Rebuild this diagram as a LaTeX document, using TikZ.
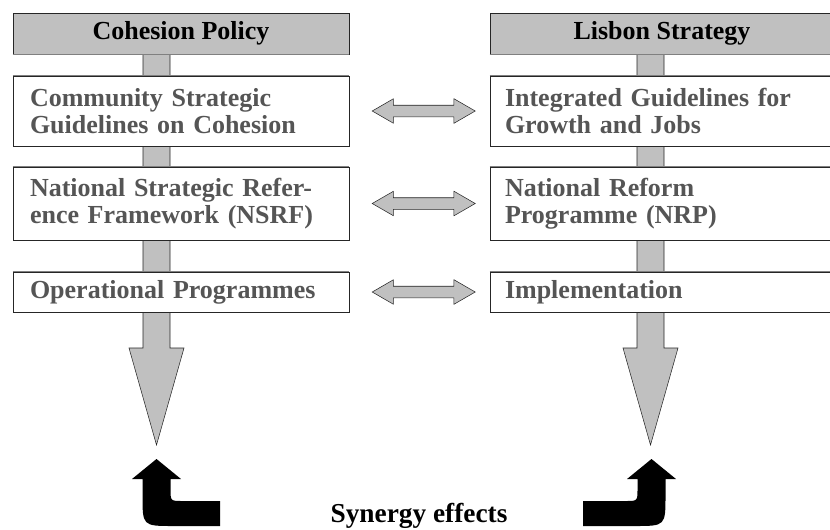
\documentclass[tikz,border=0pt]{standalone}
\usepackage{fontspec}
\setmainfont{Liberation Serif}
\usetikzlibrary{shapes.arrows,calc}
\definecolor{boxgray}{HTML}{C0C0C0}
\definecolor{textgray}{HTML}{555555}
\tikzset{
  pillar/.style={draw=black!85, fill=boxgray, minimum width=252pt, minimum height=30.75pt, inner sep=0pt, font=\fontsize{19.5}{21}\selectfont\bfseries},
  stage/.style={draw=black!85, fill=white, text width=226.5pt, inner xsep=12.75pt, inner ysep=0pt, minimum width=252pt, align=left, text=textgray, font=\fontsize{19.5}{20.25}\selectfont\bfseries},
  rstage/.style={stage, text width=235.5pt, inner xsep=11.25pt, minimum width=258pt},
  link/.style={double arrow, draw=black!85, fill=boxgray, minimum height=77.25pt, minimum width=18pt, inner sep=4.125pt, double arrow head extend=4.875pt, double arrow tip angle=60},
  stem/.style={draw=black!85, fill=boxgray},
  edge/.style={draw=black!50},
  synergy/.style={fill=black}
}
\begin{document}
\begin{tikzpicture}[x=0.75pt,y=-0.75pt]
  \useasboundingbox (0,0) rectangle (830,529);
  \draw[stem] (143,54) -- (143,348) -- (129,348) -- (156.5,445) -- (184,348) -- (170,348) -- (170,54) -- cycle;
  \draw[stem] (637,54) -- (637,348) -- (623,348) -- (650.5,445) -- (678,348) -- (664,348) -- (664,54) -- cycle;

  \node[pillar] (cp) at (181,33.5) {Cohesion Policy};
  \node[pillar, minimum width=258pt] (ls) at (662,33.5) {Lisbon Strategy};

  \node[stage, minimum height=52.5pt] (csg) at (181,111) {Community Strategic\\Guidelines on Cohesion};
  \node[stage, minimum height=54.75pt] (nsrf) at (181,203.5) {National Strategic Refer-\\ence Framework (NSRF)};
  \node[stage, minimum height=30pt] (op) at (181,292) {Operational Programmes};

  \node[rstage, minimum height=52.5pt] (igg) at (662,111) {Integrated Guidelines for\\Growth and Jobs};
  \node[rstage, minimum height=54.75pt] (nrp) at (662,203.5) {National Reform\\Programme (NRP)};
  \node[rstage, minimum height=30pt] (impl) at (662,292) {Implementation};

  \foreach \n in {csg,nsrf,op,igg,nrp,impl}
    \draw[edge] (\n.north west) -- (\n.north east);
  \foreach \n in {cp,ls}
    \draw[edge] (\n.south west) -- (\n.south east);

  \node[link] (l1) at ($(csg.east)!0.53!(igg.west)$) {};
  \node[link] (l2) at ($(nsrf.east)!0.53!(nrp.west)$) {};
  \node[link] (l3) at ($(op.east)!0.53!(impl.west)$) {};

  \fill[synergy] (156.5,459) -- (181,479) -- (170.5,479) -- (170.5,489) .. controls (170.5,501) .. (182.5,501) -- (220,501) -- (220,526) -- (173.5,526) .. controls (142.5,526) .. (142.5,495) -- (142.5,479) -- (132,479) -- cycle;
  \fill[synergy] (651.5,459) -- (676,479) -- (665.5,479) -- (665.5,495) .. controls (665.5,526) .. (634.5,526) -- (583,526) -- (583,501) -- (625.5,501) .. controls (637.5,501) .. (637.5,489) -- (637.5,479) -- (627,479) -- cycle;

  \node[anchor=base, font=\fontsize{20.5}{23}\selectfont\bfseries] (syn) at (419,522) {Synergy effects};
\end{tikzpicture}
\end{document}
